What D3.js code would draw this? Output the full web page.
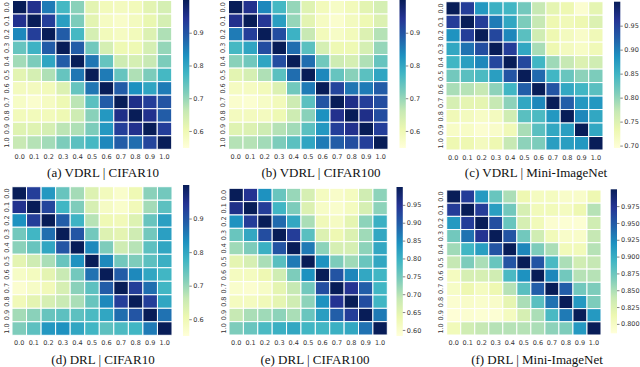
<!DOCTYPE html>
<html>
<head>
<meta charset="utf-8">
<script src="https://cdn.jsdelivr.net/npm/d3@7"></script>
<style>
  body { margin: 0; background: #fff; }
  svg { display: block; }
</style>
</head>
<body>
<svg id="chart" width="640" height="367"></svg>
<script>
// tick labels shared by every heatmap (rows and columns)
const steps = ["0.0", "0.1", "0.2", "0.3", "0.4", "0.5", "0.6", "0.7", "0.8", "0.9", "1.0"];

// similarity matrices (row = y label, col = x label)
const vdrlCifar10 = [
  [1.00, 0.95, 0.855, 0.77, 0.71, 0.62, 0.59, 0.585, 0.59, 0.62, 0.64],
  [0.95, 1.00, 0.93, 0.81, 0.72, 0.62, 0.58, 0.57, 0.585, 0.61, 0.64],
  [0.84, 0.93, 1.00, 0.89, 0.77, 0.64, 0.59, 0.58, 0.59, 0.63, 0.68],
  [0.74, 0.78, 0.89, 1.00, 0.89, 0.73, 0.64, 0.60, 0.60, 0.64, 0.70],
  [0.69, 0.72, 0.80, 0.89, 1.00, 0.86, 0.74, 0.65, 0.64, 0.66, 0.72],
  [0.62, 0.64, 0.68, 0.74, 0.86, 1.00, 0.855, 0.74, 0.68, 0.72, 0.77],
  [0.585, 0.585, 0.59, 0.63, 0.74, 0.86, 1.00, 0.89, 0.83, 0.80, 0.855],
  [0.575, 0.565, 0.58, 0.60, 0.67, 0.75, 0.89, 1.00, 0.955, 0.93, 0.90],
  [0.59, 0.59, 0.59, 0.60, 0.65, 0.71, 0.82, 0.955, 1.00, 0.95, 0.89],
  [0.625, 0.625, 0.64, 0.67, 0.68, 0.72, 0.82, 0.93, 0.95, 1.00, 0.93],
  [0.66, 0.675, 0.69, 0.72, 0.75, 0.77, 0.84, 0.89, 0.87, 0.92, 1.00]
];
const vdrlCifar100 = [
  [1.00, 0.95, 0.84, 0.77, 0.70, 0.625, 0.59, 0.575, 0.59, 0.62, 0.64],
  [0.95, 1.00, 0.94, 0.81, 0.70, 0.62, 0.58, 0.565, 0.585, 0.60, 0.63],
  [0.855, 0.93, 1.00, 0.91, 0.78, 0.66, 0.59, 0.575, 0.59, 0.63, 0.675],
  [0.77, 0.80, 0.91, 1.00, 0.87, 0.75, 0.64, 0.60, 0.60, 0.64, 0.70],
  [0.71, 0.73, 0.80, 0.91, 1.00, 0.87, 0.73, 0.65, 0.64, 0.68, 0.74],
  [0.62, 0.64, 0.68, 0.75, 0.87, 1.00, 0.84, 0.74, 0.71, 0.75, 0.80],
  [0.58, 0.58, 0.59, 0.63, 0.73, 0.855, 1.00, 0.92, 0.86, 0.855, 0.89],
  [0.565, 0.56, 0.575, 0.59, 0.65, 0.75, 0.90, 1.00, 0.955, 0.93, 0.91],
  [0.585, 0.585, 0.585, 0.60, 0.65, 0.71, 0.83, 0.95, 1.00, 0.955, 0.91],
  [0.625, 0.63, 0.65, 0.675, 0.69, 0.75, 0.82, 0.93, 0.95, 1.00, 0.93],
  [0.675, 0.675, 0.69, 0.72, 0.75, 0.80, 0.855, 0.89, 0.91, 0.93, 1.00]
];
const vdrlMini = [
  [1.00, 0.954, 0.878, 0.854, 0.848, 0.817, 0.771, 0.741, 0.732, 0.704, 0.741],
  [0.954, 1.00, 0.954, 0.902, 0.863, 0.811, 0.771, 0.732, 0.726, 0.732, 0.75],
  [0.884, 0.954, 1.00, 0.945, 0.893, 0.832, 0.762, 0.732, 0.72, 0.71, 0.726],
  [0.863, 0.909, 0.939, 1.00, 0.954, 0.863, 0.787, 0.732, 0.72, 0.713, 0.726],
  [0.848, 0.872, 0.893, 0.945, 1.00, 0.945, 0.848, 0.793, 0.771, 0.75, 0.762],
  [0.817, 0.832, 0.841, 0.872, 0.933, 1.00, 0.915, 0.848, 0.823, 0.802, 0.811],
  [0.787, 0.78, 0.771, 0.802, 0.848, 0.924, 1.00, 0.933, 0.863, 0.848, 0.832],
  [0.756, 0.741, 0.741, 0.771, 0.802, 0.863, 0.893, 1.00, 0.924, 0.878, 0.878],
  [0.726, 0.72, 0.713, 0.72, 0.762, 0.832, 0.841, 0.878, 1.00, 0.893, 0.863],
  [0.713, 0.713, 0.704, 0.71, 0.726, 0.787, 0.832, 0.863, 0.872, 1.00, 0.863],
  [0.732, 0.732, 0.72, 0.732, 0.771, 0.802, 0.811, 0.872, 0.872, 0.878, 1.00]
];
const drlCifar10 = [
  [1.00, 0.93, 0.82, 0.74, 0.69, 0.63, 0.59, 0.57, 0.60, 0.71, 0.73],
  [0.95, 1.00, 0.92, 0.775, 0.72, 0.64, 0.58, 0.57, 0.595, 0.69, 0.75],
  [0.83, 0.93, 1.00, 0.89, 0.78, 0.675, 0.60, 0.595, 0.63, 0.74, 0.81],
  [0.73, 0.775, 0.87, 1.00, 0.90, 0.73, 0.63, 0.62, 0.65, 0.73, 0.81],
  [0.71, 0.74, 0.80, 0.90, 1.00, 0.84, 0.72, 0.65, 0.675, 0.75, 0.80],
  [0.62, 0.65, 0.685, 0.74, 0.83, 1.00, 0.84, 0.73, 0.72, 0.75, 0.785],
  [0.577, 0.586, 0.62, 0.66, 0.73, 0.865, 1.00, 0.89, 0.84, 0.80, 0.775],
  [0.563, 0.577, 0.595, 0.64, 0.71, 0.75, 0.89, 1.00, 0.93, 0.87, 0.775],
  [0.595, 0.62, 0.64, 0.66, 0.685, 0.74, 0.84, 0.93, 1.00, 0.93, 0.80],
  [0.69, 0.71, 0.74, 0.75, 0.75, 0.765, 0.80, 0.87, 0.90, 1.00, 0.865],
  [0.72, 0.75, 0.82, 0.83, 0.80, 0.775, 0.75, 0.765, 0.775, 0.855, 1.00]
];
const drlCifar100 = [
  [1.00, 0.95, 0.842, 0.758, 0.721, 0.666, 0.616, 0.604, 0.616, 0.675, 0.729],
  [0.958, 1.00, 0.937, 0.792, 0.741, 0.658, 0.608, 0.60, 0.616, 0.666, 0.729],
  [0.842, 0.937, 1.00, 0.883, 0.812, 0.708, 0.625, 0.612, 0.646, 0.729, 0.80],
  [0.758, 0.812, 0.917, 1.00, 0.937, 0.771, 0.658, 0.633, 0.658, 0.716, 0.812],
  [0.716, 0.741, 0.80, 0.908, 1.00, 0.867, 0.729, 0.666, 0.666, 0.729, 0.812],
  [0.646, 0.666, 0.708, 0.771, 0.867, 1.00, 0.842, 0.741, 0.716, 0.758, 0.812],
  [0.616, 0.616, 0.633, 0.675, 0.741, 0.842, 1.00, 0.908, 0.854, 0.812, 0.792],
  [0.60, 0.596, 0.608, 0.646, 0.687, 0.75, 0.917, 1.00, 0.95, 0.896, 0.792],
  [0.616, 0.616, 0.625, 0.646, 0.675, 0.729, 0.842, 0.95, 1.00, 0.917, 0.792],
  [0.687, 0.708, 0.716, 0.729, 0.708, 0.758, 0.825, 0.896, 0.937, 1.00, 0.867],
  [0.741, 0.758, 0.783, 0.80, 0.812, 0.792, 0.792, 0.80, 0.812, 0.875, 1.00]
];
const drlMini = [
  [1.00, 0.968, 0.914, 0.876, 0.85, 0.812, 0.803, 0.803, 0.797, 0.797, 0.812],
  [0.968, 1.00, 0.968, 0.91, 0.872, 0.829, 0.807, 0.807, 0.803, 0.812, 0.846],
  [0.914, 0.968, 1.00, 0.957, 0.876, 0.829, 0.807, 0.792, 0.79, 0.79, 0.833],
  [0.872, 0.936, 0.974, 1.00, 0.953, 0.872, 0.833, 0.807, 0.797, 0.797, 0.84],
  [0.854, 0.893, 0.91, 0.953, 1.00, 0.925, 0.867, 0.85, 0.807, 0.807, 0.846],
  [0.84, 0.867, 0.85, 0.876, 0.953, 1.00, 0.953, 0.889, 0.85, 0.833, 0.84],
  [0.803, 0.829, 0.829, 0.833, 0.889, 0.919, 1.00, 0.925, 0.872, 0.846, 0.846],
  [0.799, 0.812, 0.803, 0.812, 0.846, 0.882, 0.947, 1.00, 0.947, 0.872, 0.867],
  [0.792, 0.797, 0.795, 0.797, 0.818, 0.85, 0.882, 0.936, 1.00, 0.914, 0.867],
  [0.788, 0.792, 0.79, 0.79, 0.803, 0.829, 0.85, 0.889, 0.932, 1.00, 0.914],
  [0.807, 0.833, 0.84, 0.846, 0.846, 0.846, 0.85, 0.861, 0.867, 0.914, 1.00]
];

// colorbar limits and ticks for each panel
const rangeA = [0.548, 1.0], ticksA = [0.6, 0.7, 0.8, 0.9];
const rangeB = [0.548, 1.0], ticksB = [0.6, 0.7, 0.8, 0.9];
const rangeC = [0.695, 1.0], ticksC = [0.70, 0.75, 0.80, 0.85, 0.90, 0.95];
const rangeD = [0.55, 1.0], ticksD = [0.6, 0.7, 0.8, 0.9];
const rangeE = [0.583, 1.0], ticksE = [0.60, 0.65, 0.70, 0.75, 0.80, 0.85, 0.90, 0.95];
const rangeF = [0.786, 1.0], ticksF = [0.800, 0.825, 0.850, 0.875, 0.900, 0.925, 0.950, 0.975];

const titles = ["(a) VDRL | CIFAR10", "(b) VDRL | CIFAR100", "(c) VDRL | Mini-ImageNet",
                "(d) DRL | CIFAR10", "(e) DRL | CIFAR100", "(f) DRL | Mini-ImageNet"];

// YlGnBu (ColorBrewer 9 stops, linear like matplotlib)
const ylgnbu = ["#ffffd9", "#edf8b1", "#c7e9b4", "#7fcdbb", "#41b6c4", "#1d91c0", "#225ea8", "#253494", "#081d58"];

const panels = [
  { data: vdrlCifar10, range: rangeA, ticks: ticksA, fmt: ".1f", hm: [12.5, 171.7, 0.5, 149.3], cb: [183, 148, 0], cap: [103, 177] },
  { data: vdrlCifar100, range: rangeB, ticks: ticksB, fmt: ".1f", hm: [228.5, 388, 0.5, 149.3], cb: [399.5, 148, 0], cap: [321, 177] },
  { data: vdrlMini, range: rangeC, ticks: ticksC, fmt: ".2f", hm: [446, 603, 1.7, 150], cb: [614, 148, 1.7], cap: [536, 177] },
  { data: drlCifar10, range: rangeD, ticks: ticksD, fmt: ".1f", hm: [12, 172, 186.7, 335.3], cb: [183, 336, 185], cap: [103, 364] },
  { data: drlCifar100, range: rangeE, ticks: ticksE, fmt: ".2f", hm: [229, 387.3, 188.3, 335], cb: [396.5, 336, 187], cap: [315, 364] },
  { data: drlMini, range: rangeF, ticks: ticksF, fmt: ".3f", hm: [446.7, 601, 190, 335], cb: [610.7, 333.3, 189.3], cap: [537, 364] }
];

const svg = d3.select("#chart");
const defs = svg.append("defs");

panels.forEach((p, i) => {
  const [lo, hi] = p.range;
  const color = d3.scaleLinear()
    .domain(ylgnbu.map((_, k) => lo + (hi - lo) * k / (ylgnbu.length - 1)))
    .range(ylgnbu);

  const x = d3.scaleBand().domain(steps).range([p.hm[0], p.hm[1]]);
  const y = d3.scaleBand().domain(steps).range([p.hm[2], p.hm[3]]);

  const g = svg.append("g");

  // cells
  const cells = [];
  p.data.forEach((row, r) => row.forEach((v, c) => cells.push({ r: steps[r], c: steps[c], v })));
  g.selectAll("rect.cell")
    .data(cells)
    .enter()
    .append("rect")
    .attr("class", "cell")
    .attr("x", d => x(d.c))
    .attr("y", d => y(d.r))
    .attr("width", x.bandwidth())
    .attr("height", y.bandwidth())
    .attr("fill", d => color(d.v))
    .attr("stroke", "#fff")
    .attr("stroke-width", 1);

  // column labels
  g.selectAll("text.xl")
    .data(steps)
    .enter()
    .append("text")
    .attr("x", d => x(d) + x.bandwidth() / 2)
    .attr("y", p.hm[3] + 9.5)
    .attr("text-anchor", "middle")
    .attr("font-family", "DejaVu Sans")
    .attr("font-size", 6.5)
    .attr("fill", "#333")
    .text(d => d);

  // row labels, rotated
  g.selectAll("text.yl")
    .data(steps)
    .enter()
    .append("text")
    .attr("transform", d => `translate(${p.hm[0] - 3.5},${y(d) + y.bandwidth() / 2}) rotate(-90)`)
    .attr("text-anchor", "middle")
    .attr("font-family", "DejaVu Sans")
    .attr("font-size", 6.5)
    .attr("fill", "#333")
    .text(d => d);

  // colorbar
  const gradId = "cb" + i;
  const grad = defs.append("linearGradient")
    .attr("id", gradId)
    .attr("x1", 0).attr("y1", 1).attr("x2", 0).attr("y2", 0);
  ylgnbu.forEach((c, k) => {
    grad.append("stop").attr("offset", k / (ylgnbu.length - 1)).attr("stop-color", c);
  });
  const cy = d3.scaleLinear().domain([lo, hi]).range([p.cb[1], p.cb[2]]);
  const cbW = 6.3;
  g.append("rect")
    .attr("x", p.cb[0])
    .attr("y", cy(hi))
    .attr("width", cbW)
    .attr("height", cy(lo) - cy(hi))
    .attr("fill", `url(#${gradId})`);

  const axis = g.append("g")
    .attr("transform", `translate(${p.cb[0] + cbW},0)`)
    .call(d3.axisRight(cy).tickValues(p.ticks).tickSize(2.5).tickPadding(1.5).tickFormat(d3.format(p.fmt)));
  axis.select(".domain").remove();
  axis.selectAll(".tick line").attr("stroke", "#333").attr("stroke-width", 0.6);
  axis.selectAll(".tick text")
    .attr("font-family", "DejaVu Sans")
    .attr("font-size", 6.5)
    .attr("fill", "#333");

  // caption
  svg.append("text")
    .attr("x", p.cap[0])
    .attr("y", p.cap[1])
    .attr("text-anchor", "middle")
    .attr("font-family", "Liberation Serif")
    .attr("font-size", 13)
    .attr("fill", "#111")
    .text(titles[i]);
});
</script>
</body>
</html>
